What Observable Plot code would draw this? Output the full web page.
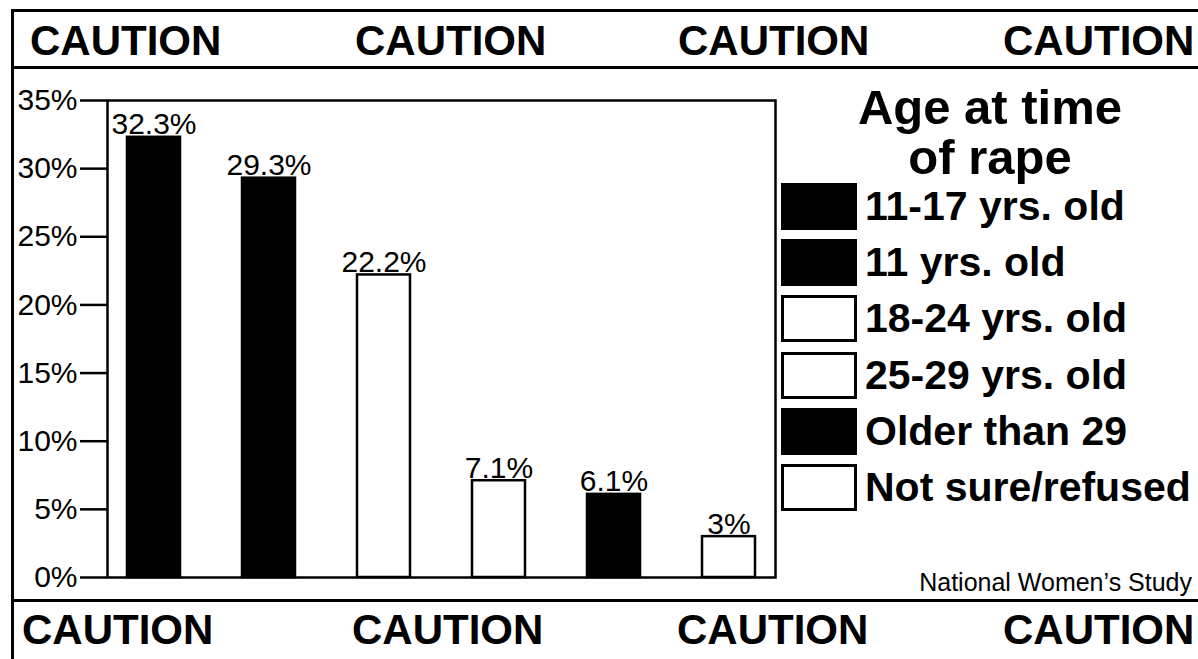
<!DOCTYPE html>
<html>
<head>
<meta charset="utf-8">
<script src="https://cdn.jsdelivr.net/npm/d3@7"></script>
<script src="https://cdn.jsdelivr.net/npm/@observablehq/plot@0.6"></script>
<style>
  html, body { margin: 0; padding: 0; background: #fff; }
  #wrap { position: relative; width: 1198px; height: 659px; overflow: hidden; background: #fff; color: #000;
          font-family: "Liberation Sans", Arial, Helvetica, sans-serif; }
  #chart { position: absolute; left: 0; top: 0; }
  .line { position: absolute; background: #000; }
  .caution { position: absolute; font-weight: bold; font-size: 42px; line-height: 1; white-space: nowrap; }
  #legendTitle { position: absolute; left: 790px; width: 400px; top: 82px; text-align: center;
                 font-weight: bold; font-size: 49px; line-height: 50px; }
  .lg-item { position: absolute; left: 781px; height: 47px; display: flex; align-items: center; }
  .lg-sw { width: 76px; height: 47px; box-sizing: border-box; border: 3px solid #000; flex: none; }
  .lg-tx { margin-left: 8px; font-weight: bold; font-size: 41px; white-space: nowrap; line-height: 1; }
  #source { position: absolute; right: 6px; top: 568px; font-size: 25px; white-space: nowrap; }
</style>
</head>
<body>
<div id="wrap"><div id="chart"></div></div>
<script>
// ---- data ----
const categories = ["11-17 yrs. old", "11 yrs. old", "18-24 yrs. old", "25-29 yrs. old", "Older than 29", "Not sure/refused"];
const values = [32.3, 29.3, 22.2, 7.1, 6.1, 3];
const valueLabels = ["32.3%", "29.3%", "22.2%", "7.1%", "6.1%", "3%"];
const yTicks = [0, 5, 10, 15, 20, 25, 30, 35];
const yTickLabels = ["0%", "5%", "10%", "15%", "20%", "25%", "30%", "35%"];
const legendTitle = ["Age at time", "of rape"];
const sourceText = "National Women\u2019s Study";
const bannerWord = "CAUTION";
const topBannerX = [30, 355, 678, 1003];
const bottomBannerX = [22, 352, 677, 1003];

const data = categories.map((c, i) => ({category: c, value: values[i], label: valueLabels[i]}));

const wrap = document.getElementById("wrap");

const chart = Plot.plot({
  width: 1198,
  height: 659,
  marginLeft: 107,
  marginRight: 423,
  marginTop: 100,
  marginBottom: 82,
  style: {fontFamily: "'Liberation Sans', Arial, Helvetica, sans-serif", background: "transparent", color: "#000", overflow: "visible"},
  x: {domain: categories, axis: null, paddingInner: 0.54, paddingOuter: 0.16, align: 0.5},
  y: {domain: [0, 35], axis: null},
  color: {domain: categories, range: ["#000", "#000", "#fff", "#fff", "#000", "#fff"]},
  marks: [
    Plot.barY(data, {x: "category", y: "value", fill: "category", stroke: "#000", strokeWidth: 2.5}),
    Plot.text(data, {x: "category", y: "value", text: "label", lineAnchor: "bottom", dy: -3, fontSize: 30, fill: "#000"}),
    Plot.frame({stroke: "#000", strokeWidth: 2.5}),
    Plot.axisY({
      ticks: yTicks,
      tickFormat: d => yTickLabels[yTicks.indexOf(d)],
      label: null,
      tickSize: 27,
      tickPadding: 3,
      fontSize: 30,
      stroke: "#000",
      strokeWidth: 2.5,
      fill: "#000"
    })
  ]
});
document.getElementById("chart").appendChild(chart);

// scale used for the legend swatches
const color = chart.scale("color");

// border lines
function line(l, t, w, h) {
  const d = document.createElement("div");
  d.className = "line";
  Object.assign(d.style, {left: l + "px", top: t + "px", width: w + "px", height: h + "px"});
  wrap.appendChild(d);
}
line(11, 9, 1187, 3);
line(11, 66, 1187, 3);
line(11, 599, 1187, 3);
line(11, 9, 3, 650);

// banners
topBannerX.forEach(x => {
  const d = document.createElement("div");
  d.className = "caution";
  d.textContent = bannerWord;
  Object.assign(d.style, {left: x + "px", top: "20px"});
  wrap.appendChild(d);
});
bottomBannerX.forEach(x => {
  const d = document.createElement("div");
  d.className = "caution";
  d.textContent = bannerWord;
  Object.assign(d.style, {left: x + "px", top: "609px"});
  wrap.appendChild(d);
});

// legend
const lt = document.createElement("div");
lt.id = "legendTitle";
lt.innerHTML = legendTitle.join("<br>");
wrap.appendChild(lt);

categories.forEach((c, i) => {
  const item = document.createElement("div");
  item.className = "lg-item";
  item.style.top = (183 + i * 56.2) + "px";
  const sw = document.createElement("div");
  sw.className = "lg-sw";
  sw.style.background = color.apply(c);
  const tx = document.createElement("div");
  tx.className = "lg-tx";
  tx.textContent = c;
  item.appendChild(sw);
  item.appendChild(tx);
  wrap.appendChild(item);
});

// source
const src = document.createElement("div");
src.id = "source";
src.textContent = sourceText;
wrap.appendChild(src);
</script>
</body>
</html>
